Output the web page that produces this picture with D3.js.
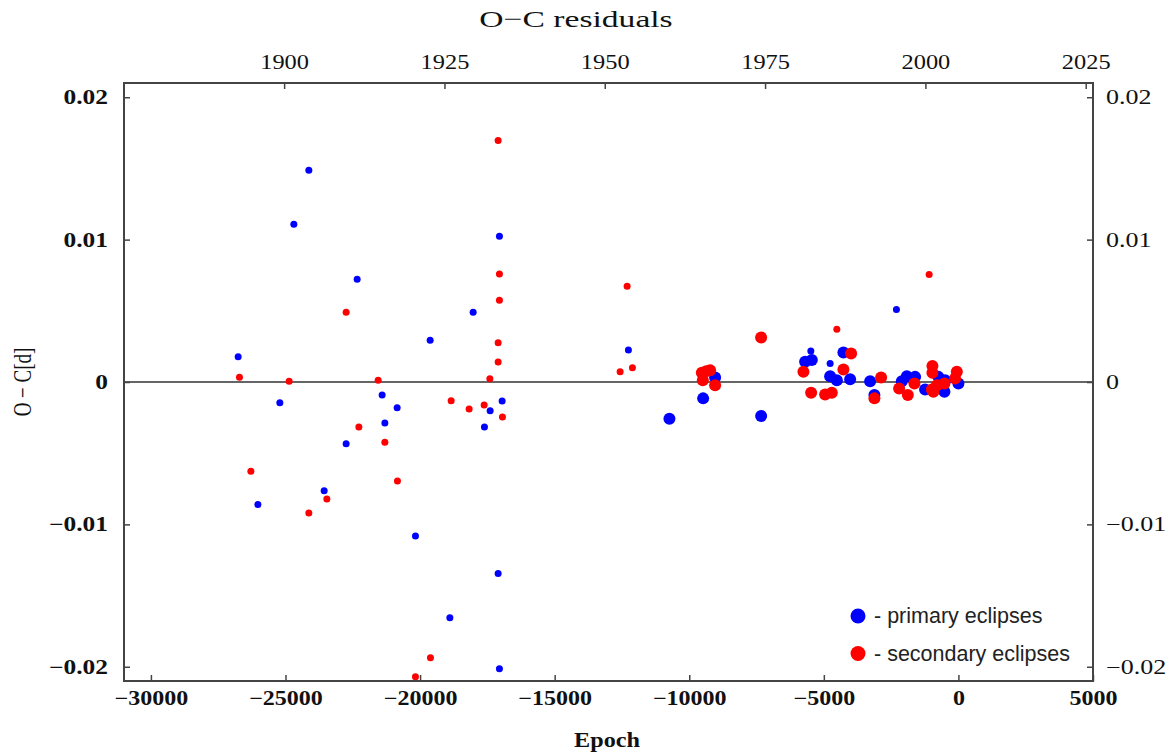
<!DOCTYPE html>
<html>
<head>
<meta charset="utf-8">
<script src="https://cdn.jsdelivr.net/npm/d3@7"></script>
<style>
  html, body { margin: 0; padding: 0; background: #fff; }
  svg { display: block; }
  .serif { font-family: "Liberation Serif", "Times New Roman", serif; fill: #111; }
  .legend { font-family: "Liberation Sans", Arial, sans-serif; fill: #222; }
</style>
</head>
<body>
<svg id="chart" width="1171" height="752"></svg>
<script>
// Primary eclipses, visual / photographic timings
const primaryVisEpoch = [-26759, -25210, -26027, -24690, -24133, -23564, -22747, -22338, -21410, -21309,
  -20852, -20172, -19626, -18894, -18029, -17609, -17397, -17100, -17052, -17052, -16952, -12260,
  -5483, -4766, -2303];
const primaryVisOC = [0.00177, -0.00146, -0.00861, 0.01108, 0.01487, -0.00763, -0.00434, 0.00722, -0.00092, -0.00288,
  -0.00181, -0.01081, 0.00294, -0.01656, 0.0049, -0.00316, -0.00202, -0.01345, -0.02014, 0.01024, -0.00134, 0.00224,
  0.00217, 0.0013, 0.0051];

// Primary eclipses, photoelectric / CCD timings
const primaryPeEpoch = [-10736, -9484, -9039, -7330, -5695, -5446, -4272, -4766, -4517, -4023,
  -3280, -3121, -2103, -1917, -1609, -1237, -743, -520, -494, 0];
const primaryPeOC = [-0.00258, -0.00115, 0.00032, -0.00239, 0.00142, 0.00154, 0.00208, 0.00041, 0.00013, 0.0002,
  0.00006, -0.00092, 0.00006, 0.00041, 0.00036, -0.00052, 0.00036, -0.00069, 0.00013, -0.0001];

// Secondary eclipses, visual / photographic timings
const secondaryVisEpoch = [-17100, -22747, -26711, -24865, -21558, -18846, -18178, -17620, -17408, -17052,
  -17052, -17100, -17100, -16940, -22275, -21309, -26287, -20841, -23464, -24133, -19615, -20172,
  -12568, -12111, -12308, -4517, -1088];
const secondaryVisOC = [0.01697, 0.0049, 0.00034, 0.00006, 0.00013, -0.00132, -0.0019, -0.00162, 0.00022, 0.00759,
  0.00575, 0.00275, 0.0014, -0.00246, -0.00316, -0.00424, -0.00627, -0.00695, -0.00821, -0.0092, -0.01937, -0.0207,
  0.00072, 0.001, 0.00673, 0.00371, 0.00755];

// Secondary eclipses, photoelectric / CCD timings
const secondaryPeEpoch = [-9533, -9224, -9373, -9496, -9039, -7330, -5758, -3986, -4272, -5472,
  -4952, -4703, -2872, -3121, -2203, -1880, -1635, -966, -966, -988, -802, -520, -59, -123, -929];
const secondaryPeOC = [0.00065, 0.00083, 0.00076, 0.00013, -0.00022, 0.00313, 0.00072, 0.002, 0.00088, -0.00076,
  -0.00087, -0.00076, 0.00032, -0.00115, -0.00045, -0.00092, -0.0001, 0.00112, 0.00065, -0.00052, -0.00022, -0.0001,
  0.00072, 0.00025, -0.00069];

// Axis ticks
const epochTicks = [-30000, -25000, -20000, -15000, -10000, -5000, 0, 5000];
const yearTicks = [1900, 1925, 1950, 1975, 2000, 2025];
const ocTicks = [-0.02, -0.01, 0, 0.01, 0.02];

// Linear ephemeris used for the calendar axis
const epochZeroYear = 2005.15;
const periodDays = 1.5331;
const epochToYear = e => epochZeroYear + e * periodDays / 365.25;

const legendItems = [
  { label: "- primary eclipses", color: "#0000ff" },
  { label: "- secondary eclipses", color: "#ff0000" }
];

const svg = d3.select("#chart");
const L = 124, R = 1093, T = 83, B = 681;

const x = d3.scaleLinear().domain([-31000, 5000]).range([L, R]);
const xYear = d3.scaleLinear().domain([epochToYear(-31000), epochToYear(5000)]).range([L, R]);
const y = d3.scaleLinear().domain([-0.021, 0.021]).range([B, T]);

const fmtY = d => d === 0 ? "0" : d3.format(".2f")(d).replace("-", "\u2212").replace(/0$/, "");
const fmtX = d => String(d).replace("-", "\u2212");

const frameColor = "#444";

// Zero line
svg.append("line")
  .attr("x1", L).attr("x2", R).attr("y1", y(0)).attr("y2", y(0))
  .attr("stroke", "#333").attr("stroke-width", 1.6);

// Axes with inward ticks
const tickLen = 6;
const gB = svg.append("g").attr("transform", `translate(0,${B})`)
  .call(d3.axisBottom(x).tickValues(epochTicks).tickSize(-tickLen).tickPadding(10).tickFormat(fmtX));
const gT = svg.append("g").attr("transform", `translate(0,${T})`)
  .call(d3.axisTop(xYear).tickValues(yearTicks).tickSize(-tickLen).tickPadding(14).tickFormat(d3.format("d")));
const gL = svg.append("g").attr("transform", `translate(${L},0)`)
  .call(d3.axisLeft(y).tickValues(ocTicks).tickSize(-tickLen).tickPadding(16).tickFormat(fmtY));
const gR = svg.append("g").attr("transform", `translate(${R},0)`)
  .call(d3.axisRight(y).tickValues(ocTicks).tickSize(-tickLen).tickPadding(13).tickFormat(fmtY));

// Tick labels are set in a horizontally widened serif face
function widen(g, k, bold) {
  g.select(".domain").remove();
  g.selectAll(".tick line").attr("stroke", frameColor).attr("stroke-width", 1.5);
  g.selectAll(".tick text").each(function () {
    const t = d3.select(this);
    const x0 = +t.attr("x") || 0;
    t.attr("class", "serif").attr("font-size", 20)
      .attr("font-weight", bold ? "bold" : "normal")
      .attr("x", x0 / k)
      .attr("transform", `scale(${k},1)`);
  });
}
widen(gB, 1.2, true);
widen(gT, 1.22, false);
widen(gL, 1.27, true);
widen(gR, 1.3, false);

// Frame
svg.append("rect")
  .attr("x", L).attr("y", T).attr("width", R - L).attr("height", B - T)
  .attr("fill", "none").attr("stroke", frameColor).attr("stroke-width", 2);

// Point layers: blue first, red drawn over it
const layers = [
  { epoch: primaryVisEpoch, oc: primaryVisOC, color: "#0000ff", r: 3.5 },
  { epoch: primaryPeEpoch, oc: primaryPeOC, color: "#0000ff", r: 6 },
  { epoch: secondaryVisEpoch, oc: secondaryVisOC, color: "#ff0000", r: 3.5 },
  { epoch: secondaryPeEpoch, oc: secondaryPeOC, color: "#ff0000", r: 6 }
];
layers.forEach(layer => {
  svg.append("g").selectAll("circle")
    .data(layer.epoch.map((e, i) => ({ e, v: layer.oc[i] })))
    .join("circle")
    .attr("cx", d => x(d.e))
    .attr("cy", d => y(d.v))
    .attr("r", layer.r)
    .attr("fill", layer.color);
});

// Titles
svg.append("text").attr("class", "serif")
  .attr("transform", "translate(576,27) scale(1.4,1)")
  .attr("text-anchor", "middle").attr("font-size", 24)
  .text("O\u2212C residuals");
svg.append("text").attr("class", "serif")
  .attr("transform", "translate(607,747) scale(1.1,1)")
  .attr("text-anchor", "middle").attr("font-size", 22).attr("font-weight", "bold")
  .text("Epoch");
svg.append("text").attr("class", "serif")
  .attr("transform", `translate(31,${y(0)}) rotate(-90) scale(1,1.3)`)
  .attr("text-anchor", "middle").attr("font-size", 19)
  .text("O \u2212 C[d]");

// Legend
const lg = svg.append("g");
legendItems.forEach((item, i) => {
  const cy = 616 + i * 37.5;
  lg.append("circle").attr("cx", 858).attr("cy", cy).attr("r", 7.5).attr("fill", item.color);
  lg.append("text").attr("class", "legend")
    .attr("x", 874).attr("y", cy + 7).attr("font-size", 21.5)
    .text(item.label);
});
</script>
</body>
</html>
